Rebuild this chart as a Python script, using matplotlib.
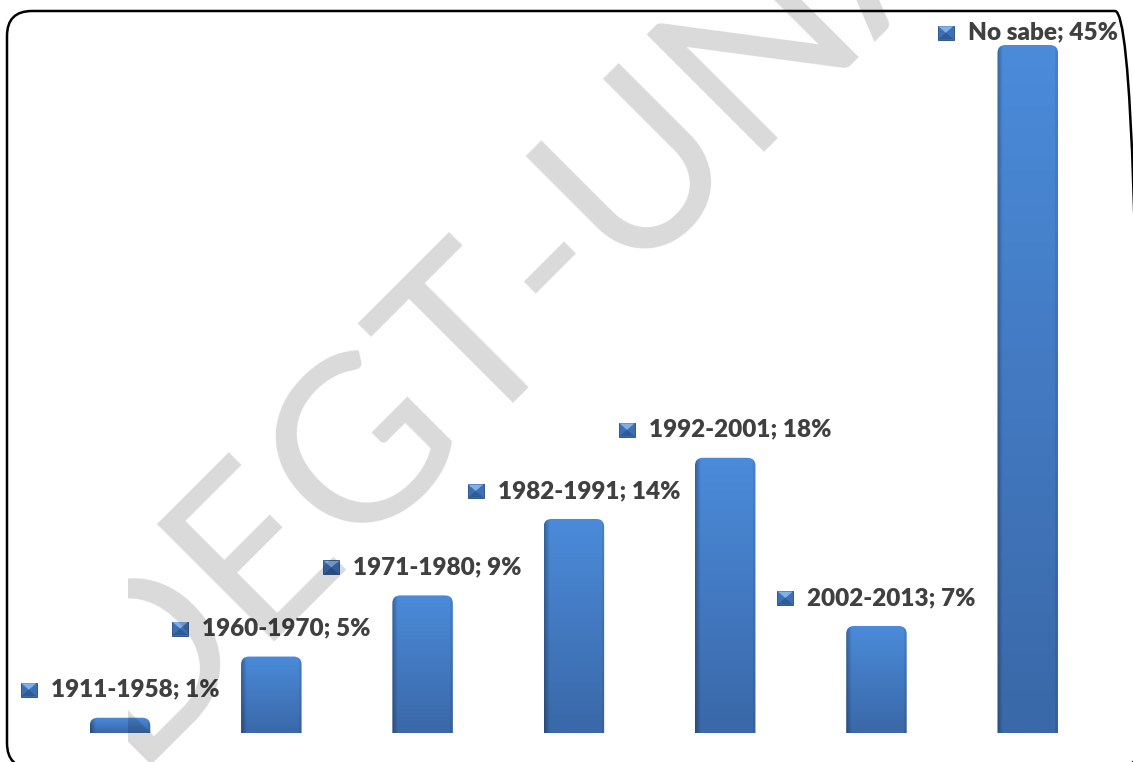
import numpy as np
import matplotlib.pyplot as plt
from matplotlib.patches import FancyBboxPatch, Rectangle, Polygon
from matplotlib.offsetbox import AnnotationBbox, DrawingArea, TextArea, HPacker
from matplotlib.transforms import IdentityTransform
from matplotlib.colors import to_rgb

# data
periods = ['1911-1958', '1960-1970', '1971-1980', '1982-1991',
           '1992-2001', '2002-2013', 'No sabe']
percent = [1, 5, 9, 14, 18, 7, 45]

W, H, DPI = 1133, 762, 100
fig = plt.figure(figsize=(W / DPI, H / DPI), dpi=DPI)
ax = fig.add_axes([44.4 / W, 29 / H, 1059 / W, 718.6 / H])

x = np.arange(len(periods))
bars = ax.bar(x, percent, width=0.4, color='none', edgecolor='none')

# gradient fill for the bars (darker towards the bottom and the left edge)
top_c = np.array(to_rgb('#4b8bda'))
bot_c = np.array(to_rgb('#3a68a8'))
rows = np.linspace(0, 1, 120)[:, None, None]
cols = np.linspace(0, 1, 60)
shade = np.ones_like(cols)
shade[cols < 0.09] = 0.72 + 0.28 * cols[cols < 0.09] / 0.09
shade[cols > 0.95] = 0.93
grad = (top_c * (1 - rows) + bot_c * rows) * shade[None, :, None]

px_x = 1059 / 7
px_y = 718.6 / 47
r = 8 / px_x
aspect = (8 / px_y) / r

for rect in bars:
    x0, w, h = rect.get_x(), rect.get_width(), rect.get_height()
    shape = FancyBboxPatch((x0, -2), w, h + 2,
                           boxstyle=f'round,pad=0,rounding_size={r}',
                           mutation_aspect=aspect, facecolor='none',
                           edgecolor='none')
    ax.add_patch(shape)
    im = ax.imshow(grad, extent=(x0, x0 + w, 0, h), aspect='auto',
                   origin='upper', zorder=2)
    im.set_clip_path(shape)

ax.set_xlim(-0.5, 6.5)
ax.set_ylim(0, 47)
ax.axis('off')

# data labels with the little legend key
for xi, name, v in zip(x, periods, percent):
    key = DrawingArea(11.5, 10, 0, 0)
    key.add_artist(Rectangle((0, 0), 11.5, 10, facecolor='#3d6fb3',
                             edgecolor='#24487d', lw=0.6))
    key.add_artist(Polygon([(0.3, 9.7), (11.2, 9.7), (5.75, 5)],
                           facecolor='#7fb0ea', edgecolor='none'))
    key.add_artist(Polygon([(0.3, 0.3), (11.2, 0.3), (5.75, 5)],
                           facecolor='#2f5a96', edgecolor='none'))
    txt = TextArea(f'{name}; {v}%',
                   textprops=dict(family='Lato', fontweight='heavy',
                                  fontsize=17.5, color='#404040'))
    pack = HPacker(children=[key, txt], sep=10, pad=0, align='center')
    ly = min(v + 1.83, 45.8)
    ab = AnnotationBbox(pack, (xi, ly), xycoords='data', frameon=False,
                        box_alignment=(0.5, 0.5), pad=0)
    ax.add_artist(ab)

# rounded chart frame
frame = FancyBboxPatch((7, -6), 1133, 757,
                       boxstyle='round,pad=0,rounding_size=25',
                       fill=False, edgecolor='black', linewidth=1.8,
                       transform=IdentityTransform())
fig.add_artist(frame)

# watermark (the stem of the first letter is hidden in the original)
wm = fig.text(617 / W, 484 / H, 'DEGT-UNAH', fontsize=166, family='Lato',
              color='black', alpha=0.15, rotation=45, rotation_mode='anchor',
              ha='center', va='baseline', zorder=10)
clip = Rectangle((128, 0), W, H, transform=IdentityTransform())
wm.set_clip_path(clip)

fig.savefig('out.png', dpi=DPI)
